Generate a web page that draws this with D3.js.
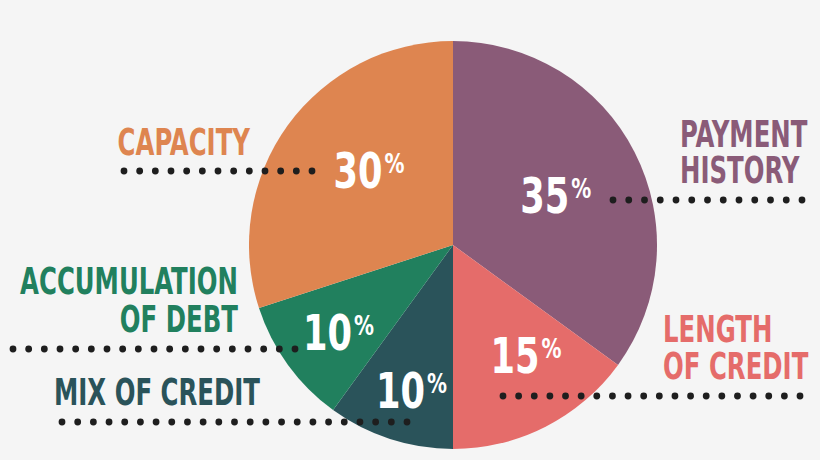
<!DOCTYPE html>
<html>
<head>
<meta charset="utf-8">
<script src="https://cdn.jsdelivr.net/npm/d3@7"></script>
<style>
  html, body { margin: 0; padding: 0; background: #f5f5f5; }
  svg { display: block; }
  text { font-family: "DejaVu Sans Condensed", "Liberation Sans", sans-serif; font-weight: bold; }
</style>
</head>
<body>
<svg id="chart" width="820" height="460"></svg>
<script>
// ---- data ----
const categories = ["Payment History", "Length of Credit", "Mix of Credit", "Accumulation of Debt", "Capacity"];
const values = [35, 15, 10, 10, 30];
const labelLines = [["PAYMENT", "HISTORY"], ["LENGTH", "OF CREDIT"], ["MIX OF CREDIT"], ["ACCUMULATION", "OF DEBT"], ["CAPACITY"]];
const colors = ["#8a5b78", "#e56c6a", "#2a535a", "#21805e", "#de8550"];

// ---- layout (positions & styles, separate from data) ----
const W = 820, H = 460;
const cx = 453, cy = 245, R = 204;
// percent label placement: radius as fraction of R, angular offset from slice mid (degrees)
const pctRadius = [0.56, 0.647, 0.739, 0.706, 0.552];
const pctAngleOffset = [1.1, -6.6, -2, -1.4, 5.8];
const labelLayout = [
  { x: 680, y: 147, lh: 36, anchor: "start" },
  { x: 663, y: 342, lh: 37, anchor: "start" },
  { x: 260, y: 405, lh: 37, anchor: "end" },
  { x: 238, y: 294, lh: 38, anchor: "end" },
  { x: 250, y: 155, lh: 37, anchor: "end" }
];
const leaderLayout = [
  { y: 200, x0: 613, x1: 802 },
  { y: 396, x0: 503, x1: 800 },
  { y: 422, x0: 62, x1: 407 },
  { y: 349, x0: 13, x1: 295 },
  { y: 171, x0: 124, x1: 312 }
];
const dotStep = 15.7;
const labelFont = 36, numFont = 50, pctFont = 27;

const svg = d3.select("#chart");
svg.append("rect").attr("width", W).attr("height", H).attr("fill", "#f5f5f5");

function measure(str, size) {
  const t = svg.append("text").attr("font-size", size).text(str);
  const w = t.node().getComputedTextLength();
  t.remove();
  return w;
}
const lblScale = 218 / measure("ACCUMULATION", labelFont);
const numScale = 49 / measure("30", numFont);
const pctScale = 20 / measure("%", pctFont);

const pie = d3.pie().sort(null).value(d => d.value).startAngle(0).endAngle(2 * Math.PI);
const rows = categories.map((c, i) => ({ cat: c, value: values[i], i }));
const arcs = pie(rows);
const arc = d3.arc().innerRadius(0).outerRadius(R);

const g = svg.append("g").attr("transform", `translate(${cx},${cy})`);
g.selectAll("path.slice").data(arcs).join("path")
  .attr("class", "slice")
  .attr("d", arc)
  .attr("fill", d => colors[d.data.i]);

// category labels (one text element per label, one tspan per line)
arcs.forEach(d => {
  const L = labelLayout[d.data.i];
  const t = svg.append("g")
    .attr("transform", `translate(${L.x},${L.y}) scale(${lblScale},1.03)`)
    .append("text")
    .attr("text-anchor", L.anchor)
    .attr("font-size", labelFont)
    .attr("fill", colors[d.data.i]);
  labelLines[d.data.i].forEach((line, k) => {
    t.append("tspan").attr("x", 0).attr("y", k * L.lh / 1.03).text(line);
  });
});

// dotted leaders
arcs.forEach(d => {
  const L = leaderLayout[d.data.i];
  const n = Math.round((L.x1 - L.x0) / dotStep) + 1;
  const xs = d3.range(n).map(k => L.x0 + k * (L.x1 - L.x0) / (n - 1));
  svg.append("g").selectAll("circle").data(xs).join("circle")
    .attr("cx", x => x).attr("cy", L.y).attr("r", 3.4).attr("fill", "#1e1e1e");
});

// percentage labels
arcs.forEach(d => {
  const a = (d.startAngle + d.endAngle) / 2 + pctAngleOffset[d.data.i] * Math.PI / 180;
  const r = pctRadius[d.data.i] * R;
  const x = cx + r * Math.sin(a);
  const y = cy - r * Math.cos(a);
  const numW = measure(String(d.data.value), numFont) * numScale;
  const total = numW + 2 + 20;
  const left = x - total / 2;
  svg.append("g")
    .attr("transform", `translate(${left},${y + 18}) scale(${numScale},1)`)
    .append("text").attr("font-size", numFont).attr("fill", "#fff")
    .text(d.data.value);
  svg.append("g")
    .attr("transform", `translate(${left + numW + 2},${y + 3}) scale(${pctScale},1)`)
    .append("text").attr("font-size", pctFont).attr("font-weight", "normal").attr("fill", "#fff")
    .text("%");
});
</script>
</body>
</html>
